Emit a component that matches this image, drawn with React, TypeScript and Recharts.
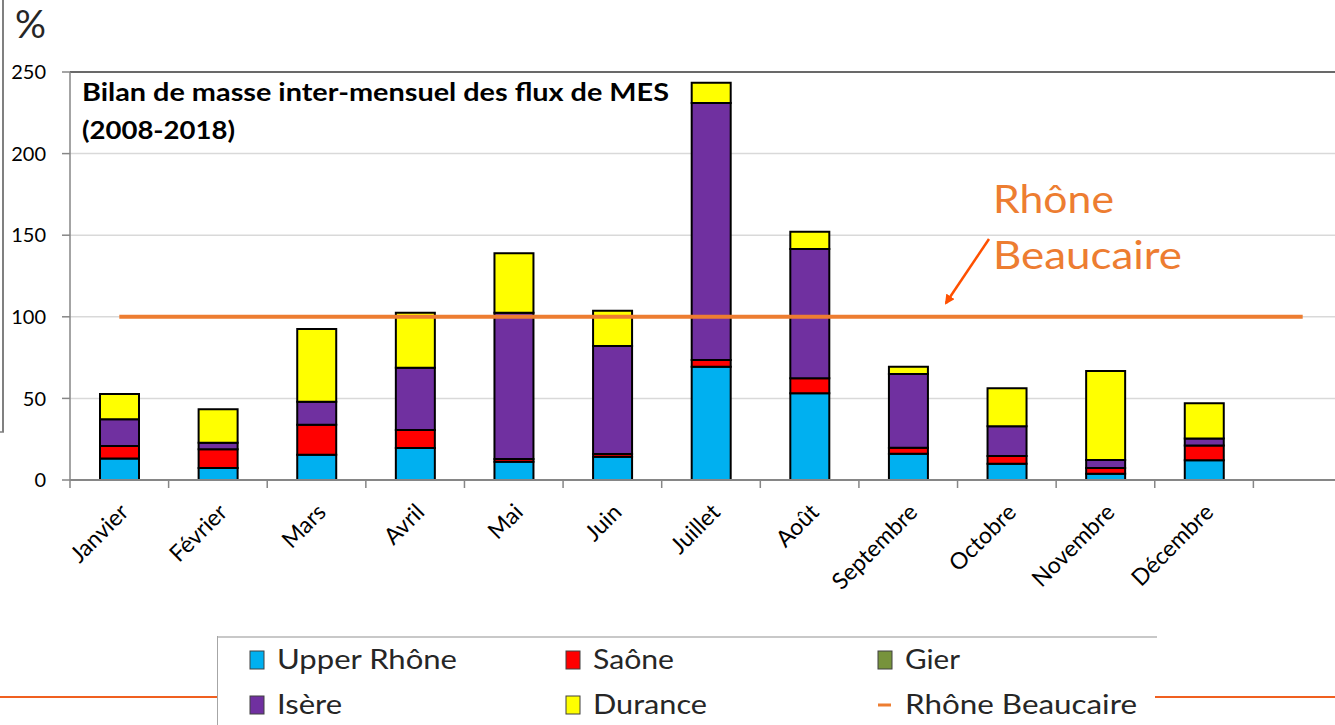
import React from 'react';
import {
  ComposedChart, Bar, Line, XAxis, YAxis, CartesianGrid, ReferenceLine, Legend,
} from 'recharts';

const months = ['Janvier', 'Février', 'Mars', 'Avril', 'Mai', 'Juin', 'Juillet', 'Août', 'Septembre', 'Octobre', 'Novembre', 'Décembre', ''];
const upperRhone = [13.1, 7.4, 15.5, 19.6, 11.2, 14.3, 69.4, 53.1, 16.1, 10.0, 3.9, 12.1, null];
const saone = [7.7, 11.4, 18.4, 11.0, 1.7, 1.6, 4.1, 9.2, 3.7, 4.7, 3.4, 9.1, null];
const gier = [0, 0, 0, 0, 0, 0, 0, 0, 0, 0, 0, 0, null];
const isere = [16.4, 4.1, 14.1, 38.2, 89.6, 66.2, 157.5, 79.2, 45.2, 18.2, 5.0, 4.3, null];
const durance = [15.5, 20.4, 44.5, 33.7, 36.4, 21.6, 12.4, 10.6, 4.4, 23.3, 54.5, 21.5, null];
const rhoneBeaucaire = [100, 100, 100, 100, 100, 100, 100, 100, 100, 100, 100, 100, 100];
const yTicks = [0, 50, 100, 150, 200, 250];
const legendOrder = ['Upper Rhône', 'Saône', 'Gier', 'Isère', 'Durance', 'Rhône Beaucaire'];

const data = months.map((m, i) => ({
  month: m,
  upperRhone: upperRhone[i],
  saone: saone[i],
  gier: gier[i],
  isere: isere[i],
  durance: durance[i],
  beaucaire: rhoneBeaucaire[i],
}));

const FONT = 'Lato, "Open Sans", sans-serif';
const CHART_W = 1360;
const PLOT_LEFT = 70;
const MARGIN_RIGHT = 8;
const BAND = (CHART_W - PLOT_LEFT - MARGIN_RIGHT) / months.length;

const legendLens: Record<string, number> = {
  'Upper Rhône': 180, 'Saône': 81, 'Gier': 55, 'Isère': 65, 'Durance': 114, 'Rhône Beaucaire': 232,
};

const MonthTick = (props: any) => {
  const { x, y, payload, index } = props;
  const left = x - BAND / 2;
  return (
    <g>
      <line x1={left} y1={y} x2={left} y2={y + 8} stroke="#868686" strokeWidth={1.5} />
      {index === months.length - 1 && (
        <line x1={x + BAND / 2} y1={y} x2={x + BAND / 2} y2={y + 8} stroke="#868686" strokeWidth={1.5} />
      )}
      <g transform={`translate(${x + 5},${y + 28}) rotate(-45)`}>
        <text x={0} y={0} dy="0.35em" textAnchor="end" fontFamily={FONT} fontSize={23} fill="#000">
          {payload.value}
        </text>
      </g>
    </g>
  );
};

const LegendBox = (props: any) => {
  const payload: any[] = props.payload || [];
  const items = legendOrder
    .map((n) => payload.find((p: any) => p.value === n))
    .filter(Boolean);
  const cols = [33, 349, 661];
  const rows = [24, 69];
  return (
    <svg width={950} height={95} style={{ display: 'block' }}>
      <line x1={0} y1={1} x2={940} y2={1} stroke="#c8c8c8" strokeWidth={2} />
      <line x1={0.5} y1={0} x2={0.5} y2={95} stroke="#a6a6a6" strokeWidth={1} />
      {items.map((p: any, i: number) => {
        const cx = cols[i % 3];
        const cy = rows[Math.floor(i / 3)];
        const isLine = p.type === 'line';
        return (
          <g key={p.value}>
            {isLine ? (
              <line x1={cx} y1={cy} x2={cx + 13} y2={cy} stroke={p.color} strokeWidth={3} />
            ) : (
              <rect x={cx} y={cy - 9} width={14} height={18} fill={p.color} stroke="#404040" strokeWidth={1} />
            )}
            <text
              x={cx + 27}
              y={cy + 9}
              fontFamily={FONT}
              fontSize={26}
              fill="#262626"
              textLength={legendLens[p.value]}
              lengthAdjust="spacingAndGlyphs"
            >
              {p.value}
            </text>
          </g>
        );
      })}
    </svg>
  );
};

export default function App() {
  return (
    <div style={{ position: 'absolute', left: 0, top: 0, width: 1335, height: 725, overflow: 'hidden', background: '#fff' }}>
      <ComposedChart
        width={CHART_W}
        height={725}
        data={data}
        margin={{ top: 72, right: MARGIN_RIGHT, left: 0, bottom: 145 }}
        barSize={39}
      >
        <CartesianGrid vertical={false} stroke="#d9d9d9" strokeWidth={1.5} />
        <ReferenceLine y={250} stroke="#404040" strokeWidth={1.5} />
        <XAxis
          dataKey="month"
          interval={0}
          height={100}
          tickSize={0}
          tickMargin={0}
          axisLine={{ stroke: '#868686', strokeWidth: 2 }}
          tick={<MonthTick />}
        />
        <YAxis
          width={70}
          domain={[0, 250]}
          ticks={yTicks}
          interval={0}
          tickSize={8}
          tickMargin={16}
          axisLine={{ stroke: '#868686', strokeWidth: 1.5 }}
          tickLine={{ stroke: '#868686', strokeWidth: 1.5 }}
          tick={{ fontFamily: FONT, fontSize: 20, fill: '#000' }}
        />
        <Legend
          layout="horizontal"
          verticalAlign="middle"
          align="center"
          wrapperStyle={{ position: 'absolute', left: 217, top: 636, width: 950, height: 95 }}
          content={<LegendBox />}
        />
        <Bar dataKey="upperRhone" name="Upper Rhône" stackId="s" fill="#00B0F0" stroke="#000" strokeWidth={2} isAnimationActive={false} />
        <Bar dataKey="saone" name="Saône" stackId="s" fill="#FF0000" stroke="#000" strokeWidth={2} isAnimationActive={false} />
        <Bar dataKey="gier" name="Gier" stackId="s" fill="#77933C" stroke="none" isAnimationActive={false} />
        <Bar dataKey="isere" name="Isère" stackId="s" fill="#7030A0" stroke="#000" strokeWidth={2} isAnimationActive={false} />
        <Bar dataKey="durance" name="Durance" stackId="s" fill="#FFFF00" stroke="#000" strokeWidth={2} isAnimationActive={false} />
        <Line
          dataKey="beaucaire"
          name="Rhône Beaucaire"
          type="linear"
          stroke="#ED7D31"
          strokeWidth={4}
          dot={false}
          activeDot={false}
          legendType="line"
          isAnimationActive={false}
        />
      </ComposedChart>
      <svg width={1335} height={725} style={{ position: 'absolute', left: 0, top: 0, pointerEvents: 'none' }}>
        <defs>
          <marker id="arr" markerWidth="10" markerHeight="10" refX="8" refY="5" orient="auto" markerUnits="userSpaceOnUse">
            <path d="M0,0 L10,5 L0,10 z" fill="#FF5000" />
          </marker>
        </defs>
        <line x1={3} y1={0} x2={3} y2={432} stroke="#808080" strokeWidth={2} />
        <line x1={0} y1={432} x2={4} y2={432} stroke="#808080" strokeWidth={1.5} />
        <line x1={0} y1={697} x2={217} y2={697} stroke="#F06020" strokeWidth={2} />
        <line x1={1155} y1={697} x2={1335} y2={697} stroke="#F06020" strokeWidth={2} />
        <text x={15} y={38} fontFamily={FONT} fontSize={38} fill="#262626" textLength={31} lengthAdjust="spacingAndGlyphs">%</text>
        <text x={82} y={101} fontFamily={FONT} fontWeight={700} fontSize={25} fill="#000" textLength={587} lengthAdjust="spacingAndGlyphs">
          Bilan de masse inter-mensuel des flux de MES
        </text>
        <text x={82} y={139} fontFamily={FONT} fontWeight={700} fontSize={25} fill="#000" textLength={153} lengthAdjust="spacingAndGlyphs">
          (2008-2018)
        </text>
        <text x={993} y={213} fontFamily={FONT} fontSize={39} fill="#ED7D31" textLength={121} lengthAdjust="spacingAndGlyphs">Rhône</text>
        <text x={993} y={269} fontFamily={FONT} fontSize={39} fill="#ED7D31" textLength={189} lengthAdjust="spacingAndGlyphs">Beaucaire</text>
        <line x1={989} y1={239} x2={946} y2={303} stroke="#FF5000" strokeWidth={2.5} markerEnd="url(#arr)" />
      </svg>
    </div>
  );
}
